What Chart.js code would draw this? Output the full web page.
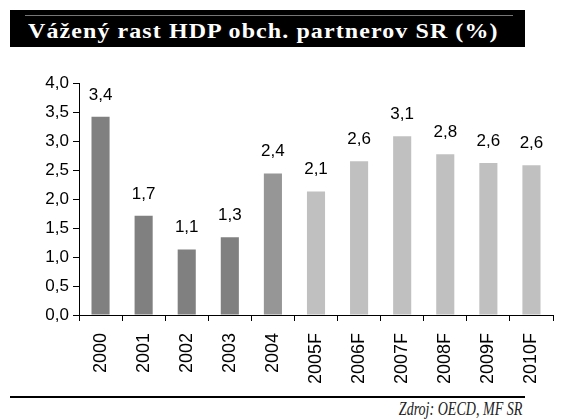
<!DOCTYPE html>
<html>
<head>
<meta charset="utf-8">
<script src="https://cdn.jsdelivr.net/npm/chart.js@4.4.1/dist/chart.umd.min.js"></script>
<style>
  html, body { margin: 0; padding: 0; background: #fff; }
  body { width: 575px; height: 419px; position: relative; overflow: hidden; }
  #title {
    position: absolute; left: 10px; top: 10px; width: 515px; height: 37px;
    background: #000;
  }
  #title .rule { position: absolute; left: 15px; right: 12px; top: 5px; height: 1px; background: #777; }
  #title .txt {
    position: absolute; left: 18px; top: 9px;
    font-family: "Liberation Serif", serif; font-weight: bold; font-size: 22px;
    letter-spacing: 1px;
    color: #fff; white-space: nowrap; line-height: 24px;
    transform: scaleX(1.09); transform-origin: left center;
  }
  #bottomRule { position: absolute; left: 10px; top: 396px; width: 515px; height: 2px; background: #000; }
  #source {
    position: absolute; right: 53px; top: 399px;
    font-family: "Liberation Serif", serif; font-style: italic; font-size: 18px;
    color: #222; white-space: nowrap; line-height: 20px;
    transform: scaleX(0.78); transform-origin: right center;
  }
  #wrap { position: absolute; left: 0; top: 60px; width: 575px; height: 330px; }
</style>
</head>
<body>
<div id="title"><div class="rule"></div><div class="txt">Vážený rast HDP obch. partnerov SR (%)</div></div>
<div id="wrap"><canvas id="c" width="575" height="330"></canvas></div>
<div id="bottomRule"></div>
<div id="source">Zdroj: OECD, MF SR</div>
<script>
const categories = ["2000","2001","2002","2003","2004","2005F","2006F","2007F","2008F","2009F","2010F"];
const growth = [3.42, 1.71, 1.13, 1.34, 2.44, 2.13, 2.65, 3.08, 2.77, 2.62, 2.58];
const barColors = ["#808080","#808080","#808080","#808080","#969696","#c0c0c0","#c0c0c0","#c0c0c0","#c0c0c0","#c0c0c0","#c0c0c0"];
const yTicks = [0,0.5,1,1.5,2,2.5,3,3.5,4];

const fmt = v => Number(v).toFixed(1).replace('.', ',');

const labelPlugin = {
  id: 'valueLabels',
  afterDatasetsDraw(chart) {
    const ctx = chart.ctx;
    const meta = chart.getDatasetMeta(0);
    ctx.save();
    ctx.font = '17px "Liberation Sans", Arial, sans-serif';
    ctx.fillStyle = '#000';
    ctx.textAlign = 'center';
    ctx.textBaseline = 'alphabetic';
    meta.data.forEach((bar, i) => {
      ctx.fillText(fmt(growth[i]), bar.x, bar.y - 17);
    });
    ctx.restore();
  }
};

new Chart(document.getElementById('c'), {
  type: 'bar',
  data: {
    labels: categories,
    datasets: [{
      data: growth,
      backgroundColor: barColors,
      borderWidth: 0,
      barPercentage: 0.42,
      categoryPercentage: 1.0
    }]
  },
  options: {
    responsive: false,
    animation: false,
    devicePixelRatio: 1,
    layout: { padding: { left: 0, right: 22, top: 23, bottom: 0 } },
    plugins: { legend: { display: false }, tooltip: { enabled: false }, title: { display: false } },
    scales: {
      x: {
        offset: true,
        grid: { display: true, drawOnChartArea: false, offset: true, tickLength: 6, color: '#000', tickColor: '#000' },
        border: { display: true, color: '#000', width: 1 },
        ticks: {
          color: '#000', minRotation: 90, maxRotation: 90, padding: 12, autoSkip: false,
          font: { family: '"Liberation Sans", Arial, sans-serif', size: 18 }
        },
        afterFit(scale) { scale.height = 75; }
      },
      y: {
        min: 0, max: 4,
        grid: { display: true, drawOnChartArea: false, tickLength: 6, color: '#000', tickColor: '#000' },
        border: { display: true, color: '#000', width: 1 },
        afterBuildTicks(scale) { scale.ticks = yTicks.map(v => ({ value: v })); },
        ticks: {
          color: '#000', padding: 4,
          font: { family: '"Liberation Sans", Arial, sans-serif', size: 17 },
          callback: v => fmt(v)
        },
        afterFit(scale) { scale.width = 79; }
      }
    }
  },
  plugins: [labelPlugin]
});
</script>
</body>
</html>
